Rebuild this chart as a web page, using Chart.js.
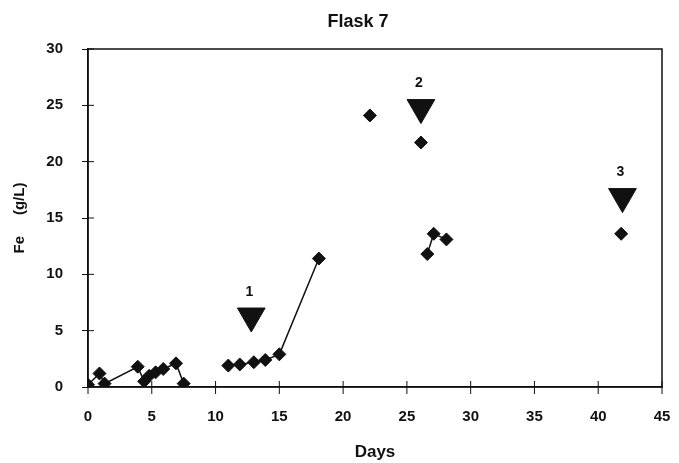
<!DOCTYPE html>
<html>
<head>
<meta charset="utf-8">
<script src="https://cdn.jsdelivr.net/npm/chart.js@4.4.0/dist/chart.umd.min.js"></script>
<style>
  html, body { margin: 0; background: #fff; overflow: hidden; }
  canvas { display: block; }
</style>
</head>
<body>
<canvas id="chart" width="679" height="463"></canvas>
<script>
// Fe concentration (g/L) by day, split into the runs that are joined by a line
const run1Days = [0, 0.9, 1.3, 3.9, 4.4, 4.8, 5.3, 5.9, 6.9, 7.5];
const run1Fe   = [0.2, 1.2, 0.3, 1.8, 0.5, 1.0, 1.3, 1.6, 2.1, 0.3];
const run2Days = [11, 11.9, 13, 13.9, 15, 18.1];
const run2Fe   = [1.9, 2.0, 2.2, 2.4, 2.9, 11.4];
const run3Days = [26.6, 27.1, 28.1];
const run3Fe   = [11.8, 13.6, 13.1];
const singleDays = [22.1, 26.1, 41.8];
const singleFe   = [24.1, 21.7, 13.6];

// numbered addition markers
const markerDays   = [12.8, 26.1, 41.9];
const markerFe     = [6.3, 24.8, 16.9];
const markerLabels = ['1', '2', '3'];

const chartTitle = 'Flask 7';
const ink = '#111';

const pts = (xs, ys) => xs.map((d, i) => ({ x: d, y: ys[i] }));

function series(xs, ys, joined) {
  return {
    data: pts(xs, ys),
    showLine: joined,
    borderColor: ink,
    borderWidth: 1.5,
    backgroundColor: ink,
    pointStyle: 'rectRot',
    pointRadius: 6.5,
    pointBorderWidth: 1,
    pointBorderColor: ink,
    pointBackgroundColor: ink
  };
}

Chart.defaults.font.family = '"Liberation Sans", Arial, sans-serif';
Chart.defaults.color = ink;

// box round the plot, tick marks across the axes, marker numbers and title
const extras = {
  id: 'extras',
  afterDraw(chart) {
    const { ctx, chartArea: a, scales: { x, y } } = chart;
    ctx.save();
    ctx.strokeStyle = ink;
    ctx.lineWidth = 1.5;
    ctx.strokeRect(a.left, a.top, a.right - a.left, a.bottom - a.top);
    ctx.lineWidth = 1;
    ctx.beginPath();
    x.ticks.forEach(t => {
      const px = x.getPixelForValue(t.value);
      ctx.moveTo(px, a.bottom - 6);
      ctx.lineTo(px, a.bottom + 7);
    });
    y.ticks.forEach(t => {
      const py = y.getPixelForValue(t.value);
      ctx.moveTo(a.left, py);
      ctx.lineTo(a.left + 6, py);
    });
    ctx.stroke();

    ctx.fillStyle = ink;
    ctx.textAlign = 'center';
    ctx.textBaseline = 'middle';
    ctx.font = 'bold 14px "Liberation Sans", Arial, sans-serif';
    markerDays.forEach((d, i) => {
      ctx.fillText(markerLabels[i], x.getPixelForValue(d) - 2, y.getPixelForValue(markerFe[i]) - 24);
    });
    ctx.font = 'bold 18px "Liberation Sans", Arial, sans-serif';
    ctx.fillText(chartTitle, 358, 22);
    ctx.restore();
  }
};

new Chart(document.getElementById('chart'), {
  type: 'scatter',
  data: {
    datasets: [
      series(run1Days, run1Fe, true),
      series(run2Days, run2Fe, true),
      series(run3Days, run3Fe, true),
      series(singleDays, singleFe, false),
      {
        data: pts(markerDays, markerFe),
        pointStyle: 'triangle',
        rotation: 180,
        pointRadius: 16,
        pointBorderWidth: 1,
        pointBorderColor: ink,
        pointBackgroundColor: ink
      }
    ]
  },
  options: {
    responsive: false,
    animation: false,
    layout: { padding: { top: 49, right: 0, left: 0, bottom: 0 } },
    plugins: {
      legend: { display: false },
      tooltip: { enabled: false }
    },
    scales: {
      x: {
        type: 'linear',
        min: 0,
        max: 45,
        afterFit: s => { s.height = 76; },
        border: { display: true, color: ink, width: 1.5 },
        grid: { drawOnChartArea: false, drawTicks: true, tickLength: 21, tickColor: 'rgba(0,0,0,0)' },
        ticks: { stepSize: 5, padding: 0, font: { size: 15, weight: 'bold' } },
        title: {
          display: true,
          text: 'Days',
          font: { size: 17, weight: 'bold' },
          padding: { top: 0, bottom: 0 }
        }
      },
      y: {
        min: 0,
        max: 30,
        afterFit: s => { s.width = 88; },
        border: { display: true, color: ink, width: 1.5 },
        grid: { drawOnChartArea: false, drawTicks: true, tickLength: 6, color: ink },
        ticks: { stepSize: 5, padding: 19, font: { size: 15, weight: 'bold' } },
        title: {
          display: true,
          text: 'Fe     (g/L)',
          font: { size: 15, weight: 'bold' },
          padding: { top: 11, bottom: 0 }
        }
      }
    }
  },
  plugins: [extras]
});
</script>
</body>
</html>
